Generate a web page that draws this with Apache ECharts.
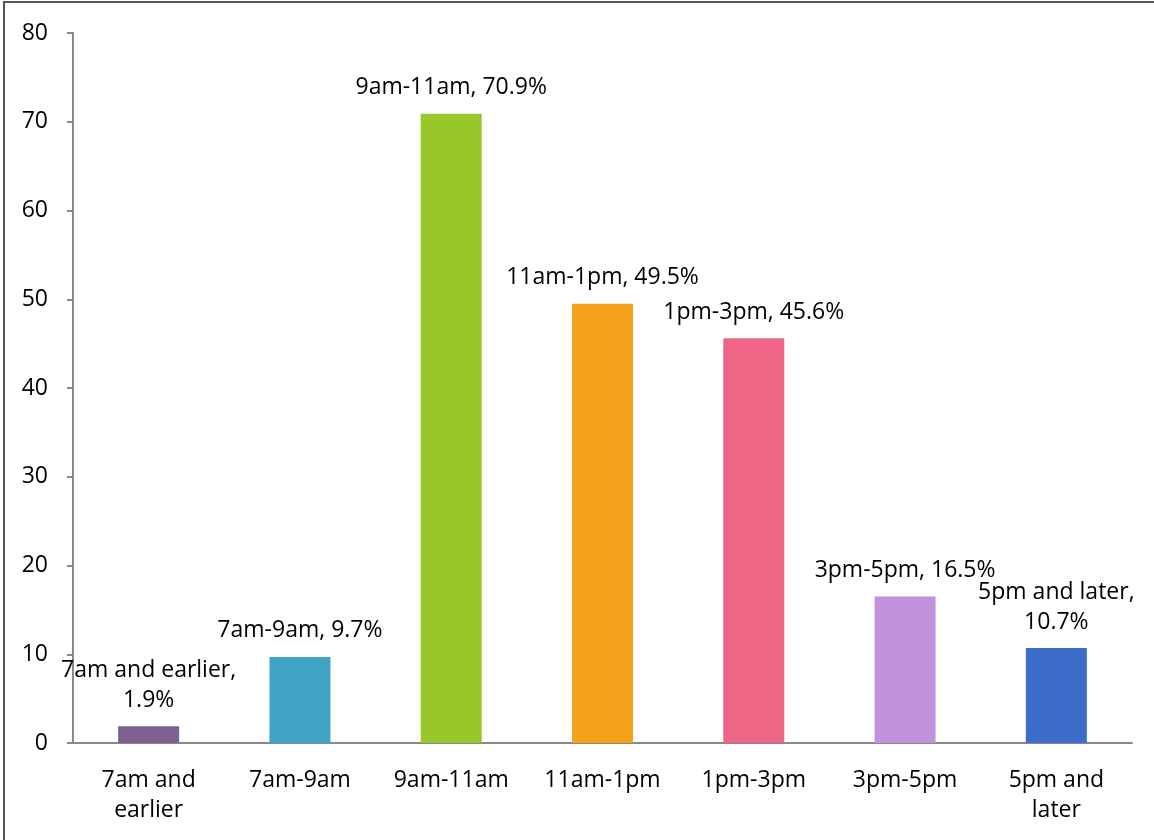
<!DOCTYPE html>
<html><head><meta charset="utf-8">
<script src="https://cdn.jsdelivr.net/npm/echarts@6/dist/echarts.min.js"></script>
<style>html,body{margin:0;padding:0;background:#fff}#c{width:1154px;height:840px}</style>
</head><body><div id="c"></div>
<script>
const categories = ['7am and\nearlier', '7am-9am', '9am-11am', '11am-1pm', '1pm-3pm', '3pm-5pm', '5pm and\nlater'];
const labelNames = ['7am and earlier,\n', '7am-9am, ', '9am-11am, ', '11am-1pm, ', '1pm-3pm, ', '3pm-5pm, ', '5pm and later,\n'];
const values = [1.9, 9.7, 70.9, 49.5, 45.6, 16.5, 10.7];
const colors = ['#7D6193', '#41A3C3', '#97C72A', '#F4A21C', '#EF6585', '#C192DB', '#3C6DCB'];
const yTicks = {min: 0, max: 80, interval: 10};

const FONT = 'Open Sans';
const chart = echarts.init(document.getElementById('c'));
chart.setOption({
  animation: false,
  grid: {left: 73, right: 22, top: 33, bottom: 97},
  graphic: [{
    type: 'polyline', silent: true,
    shape: {points: [[4, 840], [4, 2], [1154, 2]]},
    style: {stroke: '#555555', lineWidth: 2, fill: null}
  }],
  xAxis: {
    type: 'category', data: categories,
    axisLine: {lineStyle: {color: '#898989', width: 2}},
    axisTick: {length: 6, lineStyle: {color: '#898989', width: 2}},
    axisLabel: {color: '#000', fontFamily: FONT, fontSize: 23, lineHeight: 30, margin: 22, interval: 0}
  },
  yAxis: {
    type: 'value', min: yTicks.min, max: yTicks.max, interval: yTicks.interval,
    splitLine: {show: false},
    axisLine: {show: true, lineStyle: {color: '#898989', width: 2}},
    axisTick: {show: true, length: 6, lineStyle: {color: '#898989', width: 2}},
    axisLabel: {color: '#000', fontFamily: FONT, fontSize: 23, margin: 25}
  },
  series: [{
    type: 'bar', barWidth: 61,
    data: values.map((v, i) => ({value: v, itemStyle: {color: colors[i]}})),
    label: {
      show: true, position: 'top', distance: 11,
      color: '#000', fontFamily: FONT, fontSize: 23, lineHeight: 30,
      formatter: p => labelNames[p.dataIndex] + p.value + '%'
    }
  }]
});
</script></body></html>
